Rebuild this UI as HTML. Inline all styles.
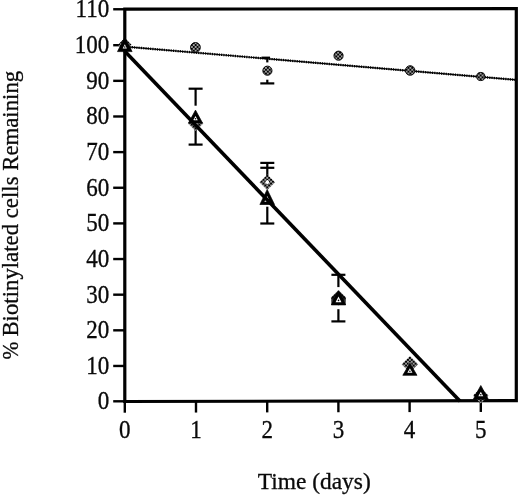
<!DOCTYPE html>
<html><head><meta charset="utf-8"><title>Chart</title>
<style>
html,body{margin:0;padding:0;background:#fff;}
body{width:520px;height:495px;overflow:hidden;}
svg{display:block;}
text{font-family:"Liberation Serif","Times New Roman",serif;fill:#0a0a0a;stroke:#0a0a0a;stroke-width:0.3px;}
svg{will-change:transform;opacity:0.999;}
</style></head><body>
<svg width="520" height="495" viewBox="0 0 520 495">
<defs>
<pattern id="dots" width="3.8" height="3.8" patternUnits="userSpaceOnUse" patternTransform="translate(0.9,0.4)">
<rect width="3.8" height="3.8" fill="#000"/><rect x="0.2" y="0.2" width="1.5" height="1.5" fill="#fff"/><rect x="2.1" y="2.1" width="1.5" height="1.5" fill="#fff"/>
</pattern>
<pattern id="chk" width="2" height="2" patternUnits="userSpaceOnUse">
<rect width="2" height="2" fill="#fff"/><rect width="1" height="1" fill="#000"/><rect x="1" y="1" width="1" height="1" fill="#000"/>
</pattern>
</defs>
<rect width="520" height="495" fill="#fff"/>

<g stroke="#000" fill="none">
<path d="M124.8,9.2 L516.3,8.6 L516.3,400.7 L124.8,401.5 Z" stroke-width="3.2" stroke-linejoin="miter"/>
<line x1="113.2" y1="401.30" x2="124" y2="401.30" stroke-width="2.4"/>
<line x1="113.2" y1="365.96" x2="124" y2="365.96" stroke-width="2.4"/>
<line x1="113.2" y1="330.32" x2="124" y2="330.32" stroke-width="2.4"/>
<line x1="113.2" y1="294.68" x2="124" y2="294.68" stroke-width="2.4"/>
<line x1="113.2" y1="259.04" x2="124" y2="259.04" stroke-width="2.4"/>
<line x1="113.2" y1="223.40" x2="124" y2="223.40" stroke-width="2.4"/>
<line x1="113.2" y1="187.76" x2="124" y2="187.76" stroke-width="2.4"/>
<line x1="113.2" y1="152.12" x2="124" y2="152.12" stroke-width="2.4"/>
<line x1="113.2" y1="116.48" x2="124" y2="116.48" stroke-width="2.4"/>
<line x1="113.2" y1="80.84" x2="124" y2="80.84" stroke-width="2.4"/>
<line x1="113.2" y1="45.20" x2="124" y2="45.20" stroke-width="2.4"/>
<line x1="113.2" y1="9.26" x2="124" y2="9.26" stroke-width="2.4"/>
<line x1="124.80" y1="401" x2="124.80" y2="412.70" stroke-width="2.4"/>
<line x1="196.00" y1="401" x2="196.00" y2="412.55" stroke-width="2.4"/>
<line x1="267.20" y1="401" x2="267.20" y2="412.40" stroke-width="2.4"/>
<line x1="338.40" y1="401" x2="338.40" y2="412.25" stroke-width="2.4"/>
<line x1="409.60" y1="401" x2="409.60" y2="412.10" stroke-width="2.4"/>
<line x1="480.80" y1="401" x2="480.80" y2="411.95" stroke-width="2.4"/>
</g>
<text transform="translate(109.2,409.20) scale(0.96,1.085)" font-size="24" text-anchor="end">0</text>
<text transform="translate(109.2,373.86) scale(0.96,1.085)" font-size="24" text-anchor="end">10</text>
<text transform="translate(109.2,338.22) scale(0.96,1.085)" font-size="24" text-anchor="end">20</text>
<text transform="translate(109.2,302.58) scale(0.96,1.085)" font-size="24" text-anchor="end">30</text>
<text transform="translate(109.2,266.94) scale(0.96,1.085)" font-size="24" text-anchor="end">40</text>
<text transform="translate(109.2,231.30) scale(0.96,1.085)" font-size="24" text-anchor="end">50</text>
<text transform="translate(109.2,195.66) scale(0.96,1.085)" font-size="24" text-anchor="end">60</text>
<text transform="translate(109.2,160.02) scale(0.96,1.085)" font-size="24" text-anchor="end">70</text>
<text transform="translate(109.2,124.38) scale(0.96,1.085)" font-size="24" text-anchor="end">80</text>
<text transform="translate(109.2,88.74) scale(0.96,1.085)" font-size="24" text-anchor="end">90</text>
<text transform="translate(109.2,53.10) scale(0.96,1.085)" font-size="24" text-anchor="end">100</text>
<text transform="translate(109.2,17.16) scale(0.96,1.085)" font-size="24" text-anchor="end">110</text>
<text transform="translate(124.80,438.2) scale(0.96,1.085)" font-size="24" text-anchor="middle">0</text>
<text transform="translate(196.00,438.2) scale(0.96,1.085)" font-size="24" text-anchor="middle">1</text>
<text transform="translate(267.20,438.2) scale(0.96,1.085)" font-size="24" text-anchor="middle">2</text>
<text transform="translate(338.40,438.2) scale(0.96,1.085)" font-size="24" text-anchor="middle">3</text>
<text transform="translate(409.60,438.2) scale(0.96,1.085)" font-size="24" text-anchor="middle">4</text>
<text transform="translate(480.80,438.2) scale(0.96,1.085)" font-size="24" text-anchor="middle">5</text>
<text x="257.7" y="488.9" font-size="23" textLength="113" lengthAdjust="spacingAndGlyphs">Time (days)</text>
<text transform="translate(17.9,359.6) rotate(-90)" font-size="23" textLength="17.8" lengthAdjust="spacingAndGlyphs">%</text>
<text transform="translate(17.9,336.6) rotate(-90)" font-size="23" textLength="265.8" lengthAdjust="spacingAndGlyphs">Biotinylated cells Remaining</text>
<line x1="124.8" y1="46.6" x2="516.3" y2="79.9" stroke="#000" stroke-width="1.2"/>
<line x1="124.8" y1="46.6" x2="516.3" y2="79.9" stroke="#000" stroke-width="2.4" stroke-dasharray="1.2 1.1"/>
<g stroke="#000" stroke-width="2.2" fill="none"><line x1="267.3" y1="57.5" x2="267.3" y2="62.4"/><line x1="267.3" y1="79.7" x2="267.3" y2="83.4"/><line x1="260.3" y1="83.4" x2="274.3" y2="83.4"/></g>
<line x1="261.5" y1="57.6" x2="270" y2="57.6" stroke="#000" stroke-width="2"/>
<circle cx="124.80" cy="44.60" r="4.3" fill="url(#dots)" stroke="#000" stroke-width="0.9"/>
<circle cx="195.43" cy="47.40" r="4.9" fill="url(#dots)" stroke="#000" stroke-width="0.9"/>
<circle cx="267.41" cy="70.70" r="4.6" fill="url(#dots)" stroke="#000" stroke-width="0.9"/>
<circle cx="338.54" cy="55.70" r="4.6" fill="url(#dots)" stroke="#000" stroke-width="0.9"/>
<circle cx="410.17" cy="70.50" r="4.8" fill="url(#dots)" stroke="#000" stroke-width="0.9"/>
<circle cx="480.80" cy="76.50" r="4.1" fill="url(#dots)" stroke="#000" stroke-width="0.9"/>
<g stroke="#000" stroke-width="2.2" fill="none"><line x1="195.6" y1="88.7" x2="195.6" y2="105.7"/><line x1="195.6" y1="130" x2="195.6" y2="144.6"/><line x1="188.6" y1="88.7" x2="202.6" y2="88.7"/><line x1="188.6" y1="144.6" x2="202.6" y2="144.6"/></g>
<g stroke="#000" stroke-width="2.2" fill="none"><line x1="267.3" y1="162.9" x2="267.3" y2="176"/><line x1="267.3" y1="206.7" x2="267.3" y2="223.5"/><line x1="260.3" y1="162.9" x2="274.3" y2="162.9"/><line x1="260.3" y1="167.8" x2="274.3" y2="167.8"/><line x1="260.3" y1="223.5" x2="274.3" y2="223.5"/></g>
<g stroke="#000" stroke-width="2.2" fill="none"><line x1="338.4" y1="274.8" x2="338.4" y2="287.1"/><line x1="338.4" y1="309.2" x2="338.4" y2="321.4"/><line x1="331.4" y1="274.8" x2="345.4" y2="274.8"/><line x1="331.4" y1="321.4" x2="345.4" y2="321.4"/></g>
<g transform="translate(124.8,44.8)"><path fill-rule="evenodd" d="M0,-6.8 L6.8,0 L0,6.8 L-6.8,0 Z M0,-2.1 L2.1,0 L0,2.1 L-2.1,0 Z" fill="url(#dots)"/><path d="M0,-2.1 L2.1,0 L0,2.1 L-2.1,0 Z" fill="#fff"/></g>
<path d="M124.8,37.20 L132.1,51.60 L117.5,51.60 Z" fill="#000" stroke="#000" stroke-width="0.7" stroke-linejoin="round"/><path d="M124.8,44.28 L126.89,48.40 L122.71,48.40 Z" fill="#fff"/>
<circle cx="124.8" cy="47.03" r="0.8" fill="#000"/>
<g transform="translate(195.6,123.3)"><path fill-rule="evenodd" d="M0,-7.8 L7.8,0 L0,7.8 L-7.8,0 Z M0,-2.1 L2.1,0 L0,2.1 L-2.1,0 Z" fill="url(#dots)"/><path d="M0,-2.1 L2.1,0 L0,2.1 L-2.1,0 Z" fill="#fff"/></g>
<path d="M195.5,110.10 L202.5,123.00 L188.5,123.00 Z" fill="#000" stroke="#000" stroke-width="0.7" stroke-linejoin="round"/><path d="M195.5,115.97 L197.79,120.20 L193.21,120.20 Z" fill="#fff"/>
<circle cx="195.5" cy="118.79" r="0.8" fill="#000"/>
<g transform="translate(267.3,182.2)"><path fill-rule="evenodd" d="M0,-7.8 L7.8,0 L0,7.8 L-7.8,0 Z M0,-2.1 L2.1,0 L0,2.1 L-2.1,0 Z" fill="url(#dots)"/><path d="M0,-2.1 L2.1,0 L0,2.1 L-2.1,0 Z" fill="#fff"/></g>
<path d="M267.2,189.50 L274.5,204.50 L259.9,204.50 Z" fill="#000" stroke="#000" stroke-width="0.7" stroke-linejoin="round"/><path d="M267.2,195.90 L270.02,201.70 L264.38,201.70 Z" fill="#fff"/>
<circle cx="267.2" cy="199.77" r="0.8" fill="#000"/>
<g transform="translate(338.5,297.8)"><path fill-rule="evenodd" d="M0,-7.8 L7.8,0 L0,7.8 L-7.8,0 Z M0,-2.1 L2.1,0 L0,2.1 L-2.1,0 Z" fill="url(#dots)"/><path d="M0,-2.1 L2.1,0 L0,2.1 L-2.1,0 Z" fill="url(#dots)"/></g>
<path d="M331.2,298 L338.5,291 L345.9,298 L345.6,304.9 L331.4,304.9 Z" fill="#000" opacity="0.8"/>
<path d="M338.5,290.90 L345.7,304.90 L331.3,304.90 Z" fill="#000" stroke="#000" stroke-width="0.7" stroke-linejoin="round"/><path d="M338.5,296.58 L341.44,302.30 L335.56,302.30 Z" fill="#fff"/>
<circle cx="338.5" cy="300.39" r="0.8" fill="#000"/>
<g transform="translate(409.9,364.2)"><path fill-rule="evenodd" d="M0,-8.2 L8.2,0 L0,8.2 L-8.2,0 Z M0,-2.1 L2.1,0 L0,2.1 L-2.1,0 Z" fill="url(#dots)"/><path d="M0,-2.1 L2.1,0 L0,2.1 L-2.1,0 Z" fill="url(#dots)"/></g>
<path d="M409.9,363.20 L417.0,375.30 L402.79999999999995,375.30 Z" fill="#000" stroke="#000" stroke-width="0.7" stroke-linejoin="round"/><path d="M409.9,368.34 L412.46,372.70 L407.34,372.70 Z" fill="#fff"/>
<circle cx="409.9" cy="371.25" r="0.8" fill="#000"/>
<g transform="translate(480.8,395.6)"><path fill-rule="evenodd" d="M0,-7.8 L7.8,0 L0,7.8 L-7.8,0 Z M0,-2.1 L2.1,0 L0,2.1 L-2.1,0 Z" fill="url(#dots)"/><path d="M0,-2.1 L2.1,0 L0,2.1 L-2.1,0 Z" fill="#fff"/></g>
<path d="M480.8,385.50 L488.3,399.30 L473.3,399.30 Z" fill="#000" stroke="#000" stroke-width="0.7" stroke-linejoin="round"/><path d="M480.8,391.78 L483.26,396.30 L478.34,396.30 Z" fill="#fff"/>
<circle cx="480.8" cy="394.79" r="0.8" fill="#000"/>
<line x1="124.8" y1="51.2" x2="460.1" y2="401.2" stroke="#000" stroke-width="3.6"/>
</svg></body></html>
